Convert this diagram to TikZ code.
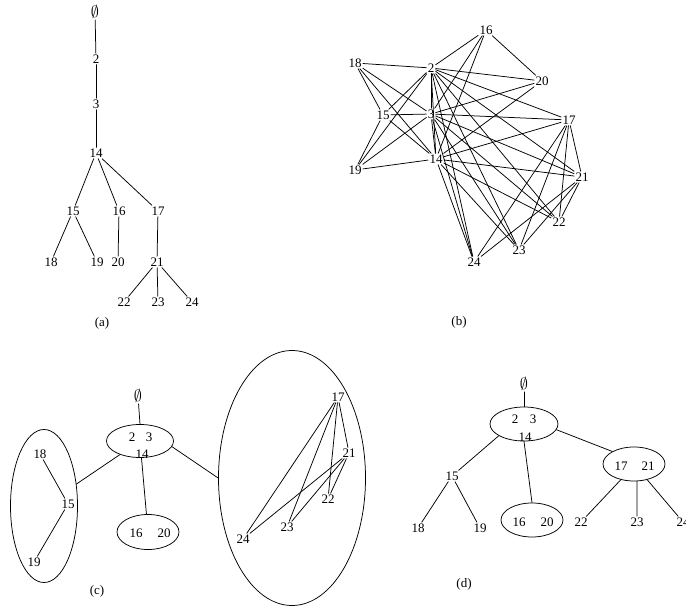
\documentclass[tikz,border=0pt]{standalone}
\usepackage{fontspec}
\setmainfont{Liberation Serif}
\usetikzlibrary{shapes.geometric}
\newcommand{\nullset}{\scalebox{1.35}{$\emptyset$}}
\tikzset{
  vtx/.style={inner sep=1pt},
  blob/.style={draw,ellipse,inner sep=0pt},
  caption/.style={inner sep=0pt}
}

\begin{document}
\begin{tikzpicture}[x=1pt,y=-1pt,line width=.75pt,line cap=round,line join=round,font=\fontsize{13}{15}\selectfont]
  \useasboundingbox (0,0) rectangle (686,607);
  % (a) tree
  \begin{scope}
    \node[vtx] (a0) at (95,12) {\nullset};
    \foreach \n/\x/\y in {2/96/59,3/96/104,14/96/153,15/73/211,16/119/211,17/158/211,18/51/262,19/97/262,20/118/262,21/157/262,22/124/302,23/158/302,24/192/302}
      \node[vtx] (a\n) at (\x,\y) {\n};
    \foreach \u/\v in {0/2,2/3,3/14,14/15,14/16,14/17,15/18,15/19,16/20,17/21,21/22,21/23,21/24}
      \draw (a\u) -- (a\v);
    \node[caption] (capa) at (102,323) {(a)};
  \end{scope}
  % (b) graph
  \begin{scope}
    \foreach \n/\x/\y in {2/431/68,3/431/114,14/436/159,15/383/115,16/486/30,17/569/120,18/355/63,19/355/170,20/542/81,21/582/177,22/559/222,23/519/250,24/474/262}
      \node[vtx] (b\n) at (\x,\y) {\n};
    \foreach \v in {3,14,15,...,24} \draw (b2) -- (b\v);
    \foreach \v in {14,15,...,24} \draw (b3) -- (b\v);
    \foreach \v in {15,...,24} \draw (b14) -- (b\v);
    \foreach \u/\v in {15/18,15/19,16/20,17/21,17/22,17/23,17/24,21/22,21/23,21/24}
      \draw (b\u) -- (b\v);
    \node[caption] (capb) at (459,322) {(b)};
  \end{scope}
  % (c) grouped
  \begin{scope}
    \node[vtx] (c0) at (138,396) {\nullset};
    \node[blob,minimum width=67,minimum height=33] (eA) at (140,441) {};
    \node[blob,minimum width=67,minimum height=153] (eB) at (44,506) {};
    \node[blob,minimum width=62,minimum height=35] (eC) at (148,532) {};
    \node[blob,minimum width=147,minimum height=255] (eD) at (292,478) {};
    \foreach \n/\x/\y in {2/132/437,3/149/437,14/142/454,18/40/454,15/68/504,19/34/562,16/136/533,20/164/533,17/338/397,21/349/453,22/328/499,23/287/527,24/243/539}
      \node[vtx] (c\n) at (\x,\y) {\n};
    \foreach \u/\v in {18/15,15/19,17/21,17/22,17/23,17/24,21/22,21/23,21/24}
      \draw (c\u) -- (c\v);
    \draw (c0) -- (eA.north);
    \draw (eA) -- (eB);
    \draw (eA) -- (eC);
    \draw (eA.-10) -- (eD.west);
    \node[caption] (capc) at (97,591) {(c)};
  \end{scope}
  % (d) tree of groups
  \begin{scope}
    \node[vtx] (d0) at (524,384) {\nullset};
    \node[blob,minimum width=68,minimum height=34] (eE) at (524,424) {};
    \node[blob,minimum width=62,minimum height=34] (eF) at (532,520) {};
    \node[blob,minimum width=62,minimum height=34] (eG) at (634,464) {};
    \foreach \n/\x/\y in {2/515/419,3/533/419,14/525/437,15/452/476,18/418/528,19/480/528,16/519/522,20/547/522,17/621/466,21/648/466,22/581/522,23/637/522,24/683/522}
      \node[vtx] (d\n) at (\x,\y) {\n};
    \draw (d0) -- (eE.north);
    \draw (eE.205) -- (d15);
    \draw (eE.south) -- (eF.north);
    \draw (eE.-10) -- (eG.150);
    \draw (d15) -- (d18) (d15) -- (d19);
    \draw (eG.230) -- (d22) (eG.-80) -- (d23) (eG.310) -- (d24);
    \node[caption] (capd) at (464,584) {(d)};
  \end{scope}
\end{tikzpicture}
\end{document}
